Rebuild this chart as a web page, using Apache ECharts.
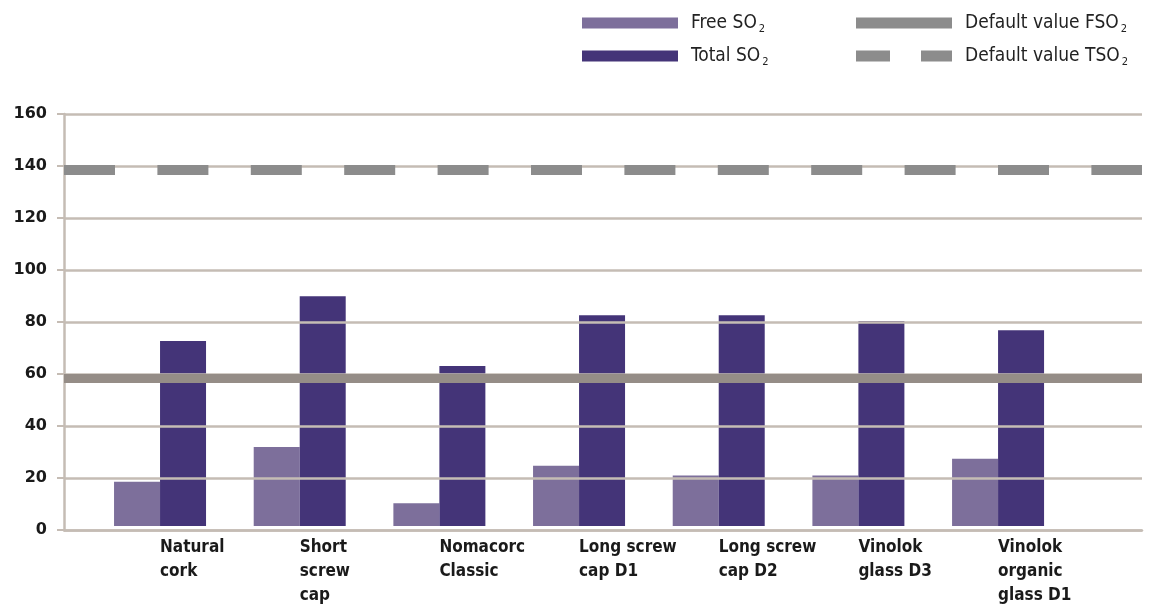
<!DOCTYPE html>
<html>
<head>
<meta charset="utf-8">
<title>SO2 by closure</title>
<script src="https://cdn.jsdelivr.net/npm/echarts@6/dist/echarts.min.js"></script>
<style>
  html, body { margin: 0; padding: 0; background: #fff; }
  #chart { width: 1150px; height: 608px; }
</style>
</head>
<body>
<div id="chart"></div>
<script>
// closures on the x axis
const categories = [
    "Natural\ncork",
    "Short\nscrew\ncap",
    "Nomacorc\nClassic",
    "Long screw\ncap D1",
    "Long screw\ncap D2",
    "Vinolok\nglass D3",
    "Vinolok\norganic\nglass D1"
];

// mg/l
const freeSO2 = [17.2, 30.7, 8.8, 23.4, 19.6, 19.6, 26.1];
const totalSO2 = [71.8, 89.2, 62.1, 81.8, 81.8, 79.6, 76.0];

// reference levels
const defaultFSO2 = 58.5;
const defaultTSO2 = 138.5;

// y axis
const yMin = 0;
const yMax = 160;
const yStep = 20;

const seriesNames = ["Free SO2", "Total SO2", "Default value FSO2", "Default value TSO2"];

const gridLine = "#c5bcb4";
const freeColor = "#7d6f9b";
const totalColor = "#443478";
const fsoColor = "#958d87";
const tsoColor = "#8c8c8c";

const legendText = {
    fontFamily: "DejaVu Sans Condensed",
    fontSize: 19,
    color: "#222",
    lineHeight: 20,
    padding: [0, 0, 0, 8],
    rich: {
        s: { fontFamily: "DejaVu Sans Condensed", fontSize: 11, padding: [12, 0, 0, 2], color: "#222" }
    }
};
const subFmt = name => name.replace(/2$/, "{s|2}");

const chart = echarts.init(document.getElementById("chart"));

chart.setOption({
    animation: false,
    backgroundColor: "#fff",
    legend: [
        {
            data: [
                { name: seriesNames[0], icon: "rect" },
                { name: seriesNames[1], icon: "rect" }
            ],
            orient: "vertical",
            left: 582,
            top: 13,
            padding: 0,
            itemWidth: 96,
            itemHeight: 11,
            itemGap: 11.5,
            selectedMode: false,
            formatter: subFmt,
            textStyle: legendText
        },
        {
            data: [
                { name: seriesNames[2], icon: "rect", itemStyle: { color: tsoColor } },
                { name: seriesNames[3], icon: "path://M0,0H34V11H0Z M65,0H96V11H65Z" }
            ],
            orient: "vertical",
            left: 856,
            top: 13,
            padding: 0,
            itemWidth: 96,
            itemHeight: 11,
            itemGap: 11.5,
            selectedMode: false,
            formatter: subFmt,
            textStyle: legendText
        }
    ],
    grid: [
        // frame, value axis, reference lines
        { left: 64, right: 8, top: 114, bottom: 78 },
        // bars
        { left: 90.2, width: 977.7, top: 114, bottom: 78 }
    ],
    xAxis: [
        {
            gridIndex: 0,
            type: "value",
            min: 0,
            max: 1,
            axisLine: { show: true, lineStyle: { color: gridLine, width: 2.5 } },
            axisTick: { show: false },
            axisLabel: { show: false },
            splitLine: { show: false }
        },
        {
            gridIndex: 1,
            type: "category",
            data: categories,
            axisLine: { show: false },
            axisTick: { show: false },
            axisLabel: {
                align: "left",
                margin: 10,
                interval: 0,
                fontFamily: "DejaVu Sans Condensed",
                fontWeight: "bold",
                fontSize: 17,
                lineHeight: 24,
                color: "#1a1a1a"
            }
        }
    ],
    yAxis: [
        {
            gridIndex: 0,
            type: "value",
            min: yMin,
            max: yMax,
            interval: yStep,
            z: 3,
            axisLine: { show: true, lineStyle: { color: gridLine, width: 2.5 } },
            axisTick: { show: true, length: 7, lineStyle: { color: gridLine, width: 2 } },
            axisLabel: {
                margin: 17,
                fontFamily: "DejaVu Sans",
                fontWeight: "bold",
                fontSize: 16,
                color: "#1a1a1a"
            },
            splitLine: { show: true, lineStyle: { color: gridLine, width: 2.5 } }
        },
        {
            gridIndex: 1,
            type: "value",
            min: yMin,
            max: yMax,
            interval: yStep,
            show: false,
            splitLine: { show: false }
        }
    ],
    series: [
        {
            name: seriesNames[0],
            type: "bar",
            xAxisIndex: 1,
            yAxisIndex: 1,
            data: freeSO2,
            barWidth: 46,
            barGap: "0%",
            itemStyle: { color: freeColor },
            emphasis: { disabled: true }
        },
        {
            name: seriesNames[1],
            type: "bar",
            xAxisIndex: 1,
            yAxisIndex: 1,
            data: totalSO2,
            barWidth: 46,
            barGap: "0%",
            itemStyle: { color: totalColor },
            emphasis: { disabled: true }
        },
        {
            name: seriesNames[2],
            type: "line",
            xAxisIndex: 0,
            yAxisIndex: 0,
            data: [],
            z: 5,
            itemStyle: { color: tsoColor },
            markLine: {
                silent: true,
                symbol: "none",
                label: { show: false },
                lineStyle: { color: fsoColor, width: 9, type: "solid", opacity: 1 },
                data: [{ yAxis: defaultFSO2 }]
            }
        },
        {
            name: seriesNames[3],
            type: "line",
            xAxisIndex: 0,
            yAxisIndex: 0,
            data: [],
            z: 5,
            itemStyle: { color: tsoColor },
            markLine: {
                silent: true,
                symbol: "none",
                label: { show: false },
                lineStyle: { color: tsoColor, width: 10, type: [51, 42.4], cap: "butt", opacity: 1 },
                data: [{ yAxis: defaultTSO2 }]
            }
        }
    ]
});
</script>
</body>
</html>
